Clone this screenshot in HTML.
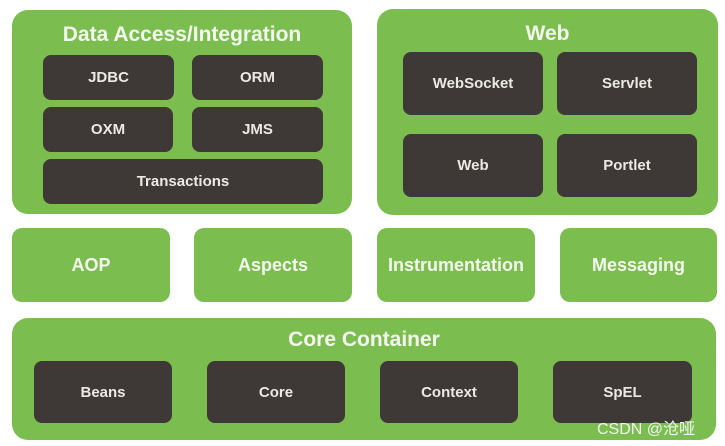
<!DOCTYPE html>
<html><head><style>
body{margin:0;width:725px;height:446px;background:#fff;position:relative;overflow:hidden;font-family:"Liberation Sans",Arial,sans-serif;font-weight:bold}
.g{position:absolute;background:#7bbd4f;border-radius:16px;color:#f4f8ef}
.d{position:absolute;background:#3e3936;border-radius:8px;color:#ece8e4;font-size:15px;display:flex;align-items:center;justify-content:center}
.t{position:absolute;left:0;right:0;text-align:center;font-size:21px}
.m{display:flex;align-items:center;justify-content:center;font-size:18px;border-radius:10px}
</style></head><body>
<div class="g" style="left:12px;top:10px;width:340px;height:204px"><div class="t" style="top:13px">Data Access/Integration</div></div>
<div class="d" style="left:43px;top:55px;width:131px;height:45px">JDBC</div>
<div class="d" style="left:192px;top:55px;width:131px;height:45px">ORM</div>
<div class="d" style="left:43px;top:107px;width:130px;height:45px">OXM</div>
<div class="d" style="left:192px;top:107px;width:131px;height:45px">JMS</div>
<div class="d" style="left:43px;top:159px;width:280px;height:45px">Transactions</div>

<div class="g" style="left:377px;top:9px;width:341px;height:206px"><div class="t" style="top:13px">Web</div></div>
<div class="d" style="left:403px;top:52px;width:140px;height:63px">WebSocket</div>
<div class="d" style="left:557px;top:52px;width:140px;height:63px">Servlet</div>
<div class="d" style="left:403px;top:134px;width:140px;height:63px">Web</div>
<div class="d" style="left:557px;top:134px;width:140px;height:63px">Portlet</div>

<div class="g m" style="left:12px;top:228px;width:158px;height:74px">AOP</div>
<div class="g m" style="left:194px;top:228px;width:158px;height:74px">Aspects</div>
<div class="g m" style="left:377px;top:228px;width:158px;height:74px">Instrumentation</div>
<div class="g m" style="left:560px;top:228px;width:157px;height:74px">Messaging</div>

<div class="g" style="left:12px;top:318px;width:704px;height:122px"><div class="t" style="top:10px">Core Container</div></div>
<div class="d" style="left:34px;top:361px;width:138px;height:62px">Beans</div>
<div class="d" style="left:207px;top:361px;width:138px;height:62px">Core</div>
<div class="d" style="left:380px;top:361px;width:138px;height:62px">Context</div>
<div class="d" style="left:553px;top:361px;width:139px;height:62px">SpEL</div>
<div style="position:absolute;left:597px;top:415px;font-size:16px;font-weight:normal;color:#f2f2f2;font-family:'Liberation Sans','Noto Sans CJK SC',sans-serif">CSDN @沧哑</div>
</body></html>
